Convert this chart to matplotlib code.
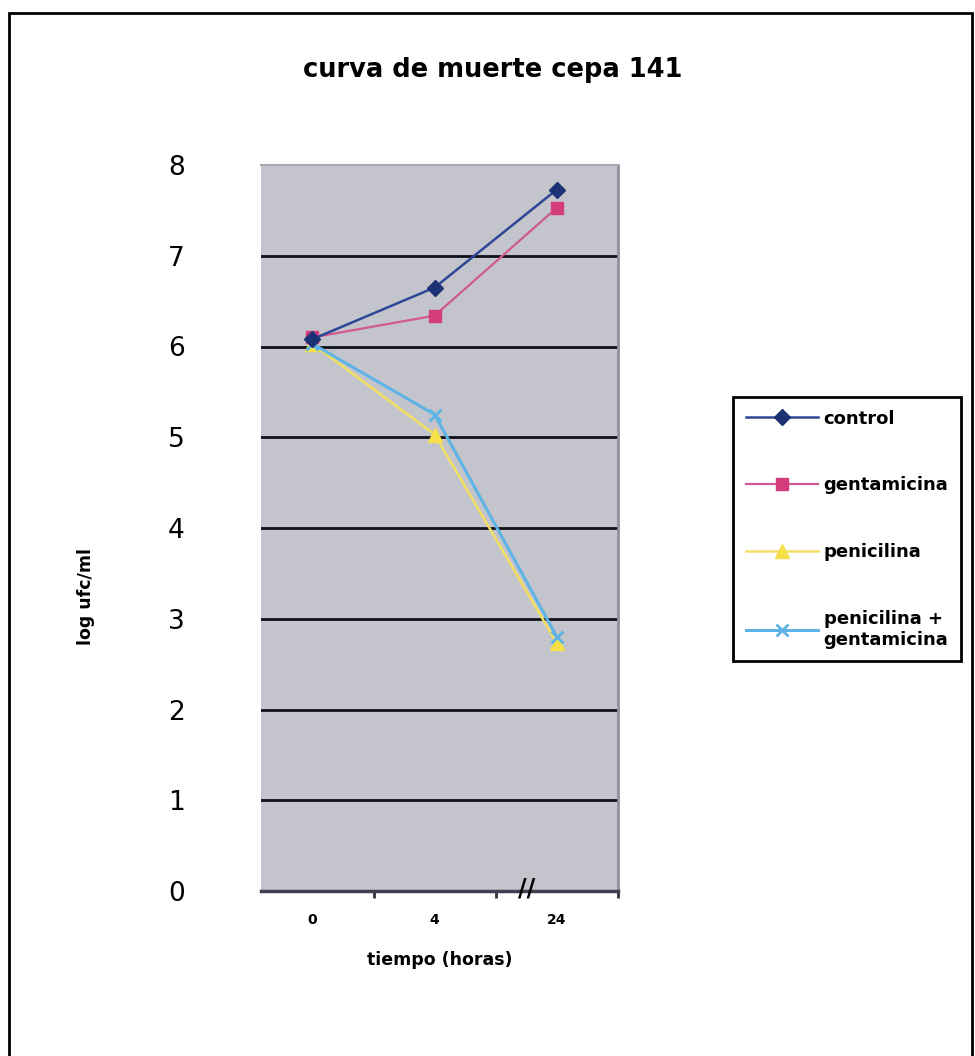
import numpy as np
import matplotlib.pyplot as plt
from matplotlib.patches import Rectangle

# datos (log ufc/ml)
tiempos = ['0', '4', '24']
control = [6.08, 6.65, 7.73]
gentamicina = [6.10, 6.34, 7.53]
penicilina = [6.03, 5.03, 2.73]
pen_gent = [6.03, 5.25, 2.80]
y_ticks = [0, 1, 2, 3, 4, 5, 6, 7, 8]

fig = plt.figure(figsize=(9.75, 10.56), dpi=100)
ax = fig.add_axes([0.2677, 0.15625, 0.3662, 0.6875])
ax.set_facecolor('#c4c4cc')

x = np.arange(len(tiempos))
ax.plot(x, control, '-D', color='#2d4696', mfc='#1d3275', mec='#1d3275',
        ms=8, lw=1.8, label='control', zorder=5)
ax.plot(x, gentamicina, '-s', color='#cf5a90', mfc='#d43d7c', mec='#d43d7c',
        ms=9, lw=1.6, label='gentamicina', zorder=4)
ax.plot(x, penicilina, '-^', color='#f2df62', mfc='#f5e04a', mec='#f5e04a',
        ms=10, lw=1.8, label='penicilina', zorder=3)
ax.plot(x, pen_gent, '-x', color='#5eb4e6', mfc='#5eb4e6', mec='#5eb4e6',
        ms=9, mew=2, lw=2.2, label='penicilina +\ngentamicina', zorder=3)

ax.set_xlim(-0.42, 2.5)
ax.set_ylim(0, 8)

# lineas horizontales tipo Excel
ax.set_yticks(y_ticks)
ax.set_yticklabels([str(v) for v in y_ticks], fontsize=19)
ax.yaxis.grid(True, color='#101018', lw=2.0)
ax.set_axisbelow(True)
gl = ax.yaxis.get_gridlines()
gl[0].set_visible(False)
gl[-1].set_visible(False)
ax.tick_params(axis='y', length=0, pad=55)

ax.set_xticks(x)
ax.set_xticklabels(tiempos, fontsize=10, fontweight='bold')
ax.set_xticks([0.5, 1.5, 2.5], minor=True)
ax.tick_params(axis='x', which='major', length=0, pad=16)
ax.tick_params(axis='x', which='minor', length=5, width=2, color='#303040')

ax.spines['left'].set_visible(False)
ax.spines['top'].set_color('#a8a8b0')
ax.spines['top'].set_linewidth(1.5)
ax.spines['right'].set_color('#9090a0')
ax.spines['right'].set_linewidth(2)
ax.spines['bottom'].set_color('#404050')
ax.spines['bottom'].set_linewidth(2.5)

# marca de corte del eje
ax.text(1.75, 0.03, '//', fontsize=17, fontweight='bold', ha='center',
        va='center', clip_on=False, zorder=6)

ax.set_xlabel('tiempo (horas)', fontsize=12.5, fontweight='bold', labelpad=17)
fig.text(0.088, 0.435, 'log ufc/ml', rotation=90, fontsize=12.5,
         fontweight='bold', ha='center', va='center')
fig.text(0.505, 0.934, 'curva de muerte cepa 141', fontsize=18.5,
         fontweight='bold', ha='center', va='center')

leg = fig.legend(loc='upper left', bbox_to_anchor=(0.743, 0.6326),
                 handlelength=4.0, labelspacing=2.7, handletextpad=0.3,
                 borderpad=0.7, fancybox=False, edgecolor='black',
                 framealpha=1, prop={'weight': 'bold', 'size': 13})
leg.get_frame().set_linewidth(2)

# marco exterior
fig.patches.append(Rectangle((9 / 975, -0.05), 963 / 975, 1 - 13 / 1056 + 0.05,
                             transform=fig.transFigure, fill=False,
                             edgecolor='black', lw=2))

fig.savefig('out.png', dpi=100)
